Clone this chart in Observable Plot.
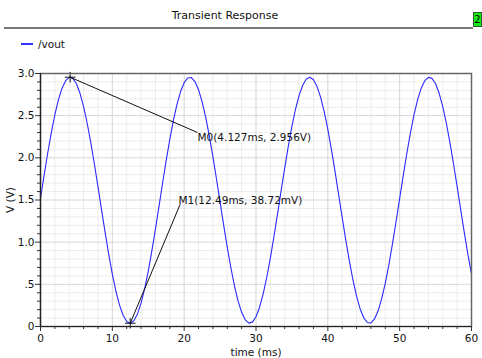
<!DOCTYPE html>
<html>
<head>
<meta charset="utf-8">
<script src="https://cdn.jsdelivr.net/npm/d3@7"></script>
<script src="https://cdn.jsdelivr.net/npm/@observablehq/plot@0.6"></script>
<style>
  body { margin: 0; background: #fff; font-family: "DejaVu Sans", sans-serif; }
  #wrap { position: relative; width: 482px; height: 358px; overflow: hidden; }
  #chart { position: absolute; left: 0; top: 0; }
  .title { position: absolute; left: 0; width: 450px; top: 9px; text-align: center; font-size: 11px; color: #111; }
  .rule { position: absolute; left: 4px; top: 27px; width: 469px; height: 2px; background: #777; }
  .badge { position: absolute; left: 473px; top: 12px; width: 9px; height: 15px; background: #11ee11; border: 1px solid #335533; box-sizing: border-box; font-size: 10px; line-height: 13px; text-align: center; color: #000; }
  .legend { position: absolute; left: 21px; top: 38px; font-size: 10.5px; color: #111; display: flex; align-items: center; }
  .legend .sw { width: 12px; height: 1.5px; background: #3333ff; margin-right: 5px; }
</style>
</head>
<body>
<div id="wrap">
  <div id="chart"></div>
  <div class="title">Transient Response</div>
  <div class="rule"></div>
  <div class="badge">2</div>
  <div class="legend"><span class="sw"></span><span>/vout</span></div>
</div>
<script>
// Trace /vout (time in ms, voltage in V)
const timeMs = [
  0,0.5,1,1.5,2,2.5,3,3.5,4,4.127,4.5,5,5.5,6,6.5,7,7.5,8,8.5,9,9.5,
  10,10.5,11,11.5,12,12.49,13,13.5,14,14.5,15,15.5,16,16.5,17,17.5,18,18.5,19,19.5,
  20,20.5,21,21.5,22,22.5,23,23.5,24,24.5,25,25.5,26,26.5,27,27.5,28,28.5,29,29.5,
  30,30.5,31,31.5,32,32.5,33,33.5,34,34.5,35,35.5,36,36.5,37,37.5,38,38.5,39,39.5,
  40,40.5,41,41.5,42,42.5,43,43.5,44,44.5,45,45.5,46,46.5,47,47.5,48,48.5,49,49.5,
  50,50.5,51,51.5,52,52.5,53,53.5,54,54.5,55,55.5,56,56.5,57,57.5,58,58.5,59,59.5,60
];
const vout = [
  1.519,1.792,2.054,2.297,2.511,2.690,2.826,2.915,2.954,2.956,2.942,2.878,2.765,2.607,2.410,2.180,1.927,1.658,1.383,1.113,0.856,
  0.622,0.418,0.253,0.133,0.060,0.0387,0.068,0.149,0.277,0.448,0.657,0.896,1.155,1.427,1.702,1.969,2.219,2.444,2.635,2.786,
  2.891,2.947,2.952,2.904,2.808,2.664,2.480,2.260,2.014,1.749,1.475,1.202,0.940,0.697,0.483,0.304,0.168,0.079,0.040,0.052,
  0.116,0.229,0.387,0.584,0.814,1.067,1.336,1.611,1.881,2.138,2.372,2.576,2.740,2.861,2.934,2.956,2.926,2.845,2.717,2.546,
  2.337,2.098,1.839,1.567,1.292,1.025,0.775,0.550,0.359,0.208,0.103,0.047,0.042,0.090,0.186,0.330,0.514,0.734,0.980,1.245,
  1.519,1.792,2.054,2.297,2.511,2.690,2.826,2.915,2.954,2.942,2.878,2.765,2.607,2.410,2.180,1.927,1.658,1.383,1.113,0.856,0.622
];

// Markers
const markerNames = ["M0", "M1"];
const markerT = [4.127, 12.49];
const markerV = [2.956, 0.03872];
const markerLabels = ["M0(4.127ms, 2.956V)", "M1(12.49ms, 38.72mV)"];
const labelT = [21.86, 19.21];
const labelV = [2.24, 1.49];
const leaderT = [21.86, 19.45];
const leaderV = [2.30, 1.45];

// Axes
const xTicks = [0, 10, 20, 30, 40, 50, 60];
const xTickLabels = ["0", "10", "20", "30", "40", "50", "60"];
const xMinor = [2,4,6,8,12,14,16,18,22,24,26,28,32,34,36,38,42,44,46,48,52,54,56,58];
const yTicks = [0, 0.5, 1, 1.5, 2, 2.5, 3];
const yTickLabels = ["0", ".5", "1.0", "1.5", "2.0", "2.5", "3.0"];
const yMinor = [0.1,0.2,0.3,0.4,0.6,0.7,0.8,0.9,1.1,1.2,1.3,1.4,1.6,1.7,1.8,1.9,2.1,2.2,2.3,2.4,2.6,2.7,2.8,2.9];

const trace = timeMs.map((t, i) => ({t, v: vout[i]}));
const markers = markerNames.map((n, i) => ({
  name: n, t: markerT[i], v: markerV[i], label: markerLabels[i],
  lt: labelT[i], lv: labelV[i], et: leaderT[i], ev: leaderV[i]
}));

const chart = Plot.plot({
  width: 482,
  height: 358,
  marginTop: 73,
  marginBottom: 32,
  marginLeft: 40,
  marginRight: 11,
  style: {fontFamily: "DejaVu Sans, sans-serif", fontSize: "10.5px", color: "#111", background: "transparent"},
  x: {domain: [0, 60]},
  y: {domain: [0, 3]},
  marks: [
    Plot.gridX(xMinor, {stroke: "#ececec", strokeOpacity: 1}),
    Plot.gridY(yMinor, {stroke: "#ececec", strokeOpacity: 1}),
    Plot.gridX(xTicks, {stroke: "#d6d6d6", strokeOpacity: 1}),
    Plot.gridY(yTicks, {stroke: "#d6d6d6", strokeOpacity: 1}),
    Plot.line(trace, {x: "t", y: "v", stroke: "#2a2aff", strokeWidth: 1.1}),
    Plot.link(markers, {x1: "t", y1: "v", x2: "et", y2: "ev", stroke: "#111", strokeWidth: 1}),
    Plot.dot(markers, {x: "t", y: "v", symbol: "plus", r: 3.5, stroke: "#111", strokeWidth: 1}),
    Plot.text(markers, {x: "lt", y: "lv", text: "label", textAnchor: "start", fill: "#111", fontSize: 10.5}),
    Plot.frame({stroke: "#666", strokeWidth: 1.5}),
    Plot.axisX(xMinor, {tickSize: 3, text: null, stroke: "#333"}),
    Plot.axisY(yMinor, {tickSize: 3, text: null, stroke: "#333"}),
    Plot.axisX(xTicks, {tickSize: 5, tickPadding: 3, tickFormat: (d, i) => xTickLabels[i], label: "time (ms)", labelAnchor: "center", labelArrow: "none", labelOffset: 29, stroke: "#333"}),
    Plot.axisY(yTicks, {tickSize: 5, tickPadding: 1, tickFormat: (d, i) => yTickLabels[i], label: "V (V)", labelAnchor: "center", labelArrow: "none", labelOffset: 34, stroke: "#333"}),
    Plot.ruleX([0], {stroke: "#222", strokeWidth: 1.2}),
    Plot.ruleY([0], {stroke: "#222", strokeWidth: 1.2})
  ]
});
document.getElementById("chart").appendChild(chart);
</script>
</body>
</html>
